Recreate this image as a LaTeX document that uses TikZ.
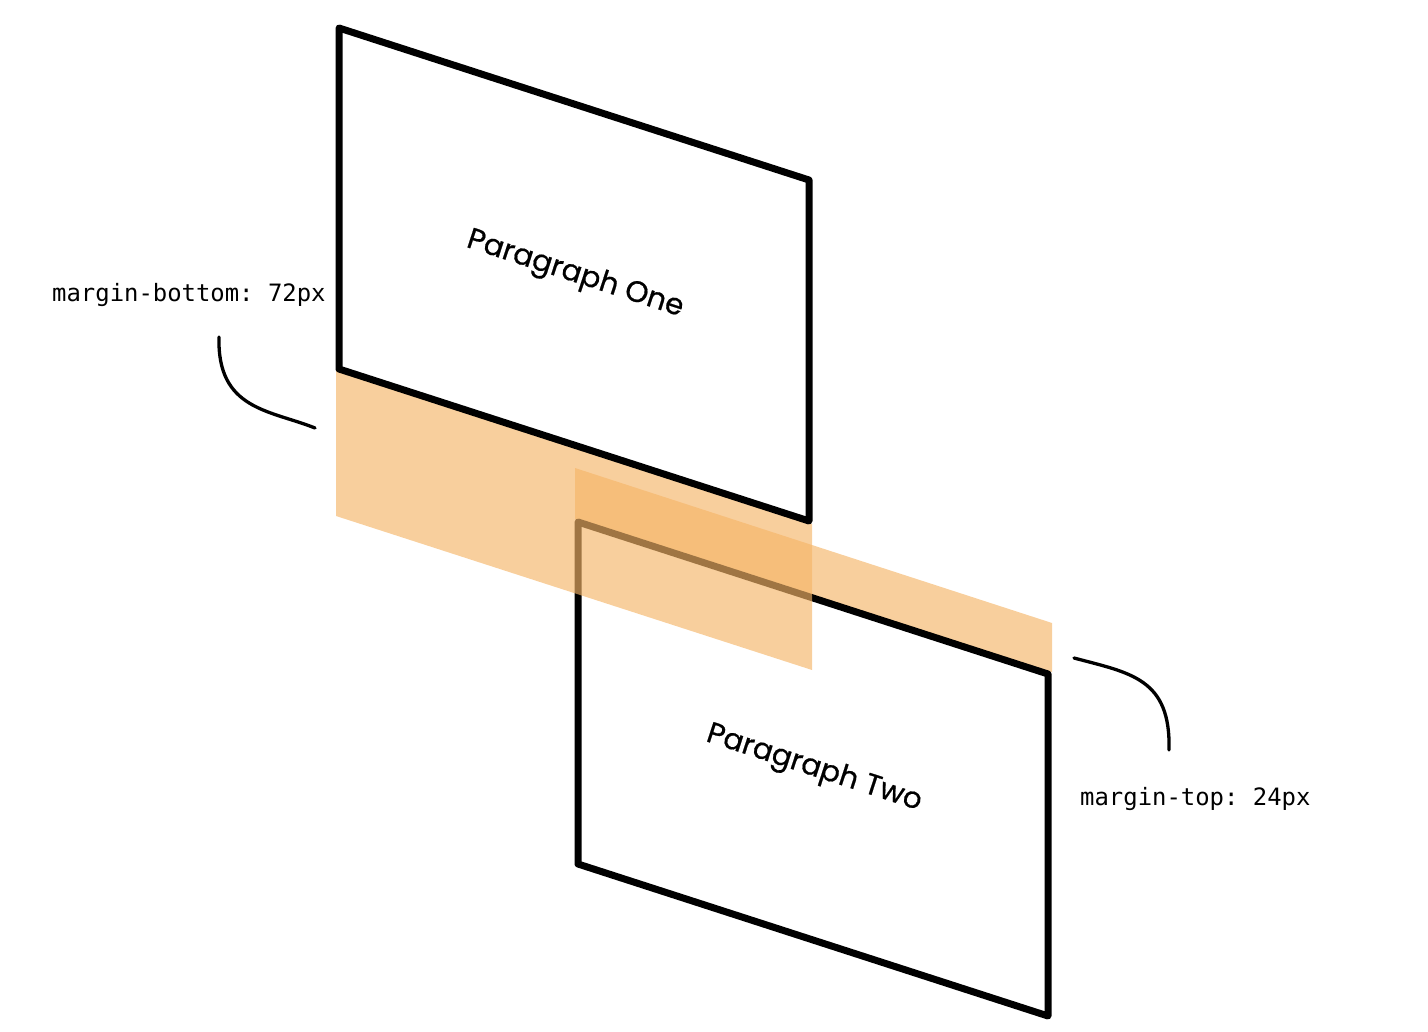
\documentclass[tikz,border=0pt]{standalone}
\usepackage{fontspec}
\setmonofont{DejaVu Sans Mono}
\newfontfamily\parafont[FakeBold=0.6]{Poppins}
\definecolor{bandorange}{RGB}{245,181,104}
\begin{document}
\begin{tikzpicture}[x=1pt,y=-1pt,
  panel/.style={draw=black,line width=7pt,line join=round},
  band/.style={fill=bandorange,fill opacity=0.65},
  bracket/.style={draw=black,line width=3.3pt,line cap=round},
  cssnote/.style={font=\ttfamily\fontsize{23.9}{28}\selectfont,inner sep=0pt,anchor=base west},
  paratitle/.style={font=\parafont\fontsize{29.5}{34}\selectfont,rotate=-18,inner sep=0pt}]
\useasboundingbox (0,0) rectangle (1428,1032);
% coordinates
\coordinate (p1tl) at (339,28);
\coordinate (p1tr) at (809,180);
\coordinate (p1br) at (809,521);
\coordinate (p1bl) at (339,369);
\coordinate (p2tl) at (578,522);
\coordinate (p2tr) at (1048,674);
\coordinate (p2br) at (1048,1016);
\coordinate (p2bl) at (578,864);
% margin-top band (behind paragraph two)
\fill[band] (575,468) -- (1052,623) -- (1052,672) -- (575,519) -- cycle;
% paragraph two
\draw[panel] (p2tl) -- (p2tr) -- (p2br) -- (p2bl) -- cycle;
% margin-bottom band
\fill[band] (336,370) -- (812,524) -- (812,670) -- (336,516) -- cycle;
% paragraph one
\draw[panel] (p1tl) -- (p1tr) -- (p1br) -- (p1bl) -- cycle;
% titles
\node[paratitle] (t1) at (575,275) {Paragraph One};
\node[paratitle] (t2) at (814,769) {Paragraph Two};
% labels
\node[cssnote] (mb) at (52,302) {margin-bottom: 72px};
\node[cssnote] (mt) at (1080,805) {margin-top: 24px};
% brackets
\coordinate (b1s) at (219,337);
\coordinate (b1e) at (315,428);
\coordinate (b2s) at (1074,658);
\coordinate (b2e) at (1169,750);
\draw[bracket] (b1s) .. controls (217,410) and (270,410) .. (b1e);
\draw[bracket] (b2s) .. controls (1130,673) and (1171,678) .. (b2e);
\end{tikzpicture}
\end{document}
